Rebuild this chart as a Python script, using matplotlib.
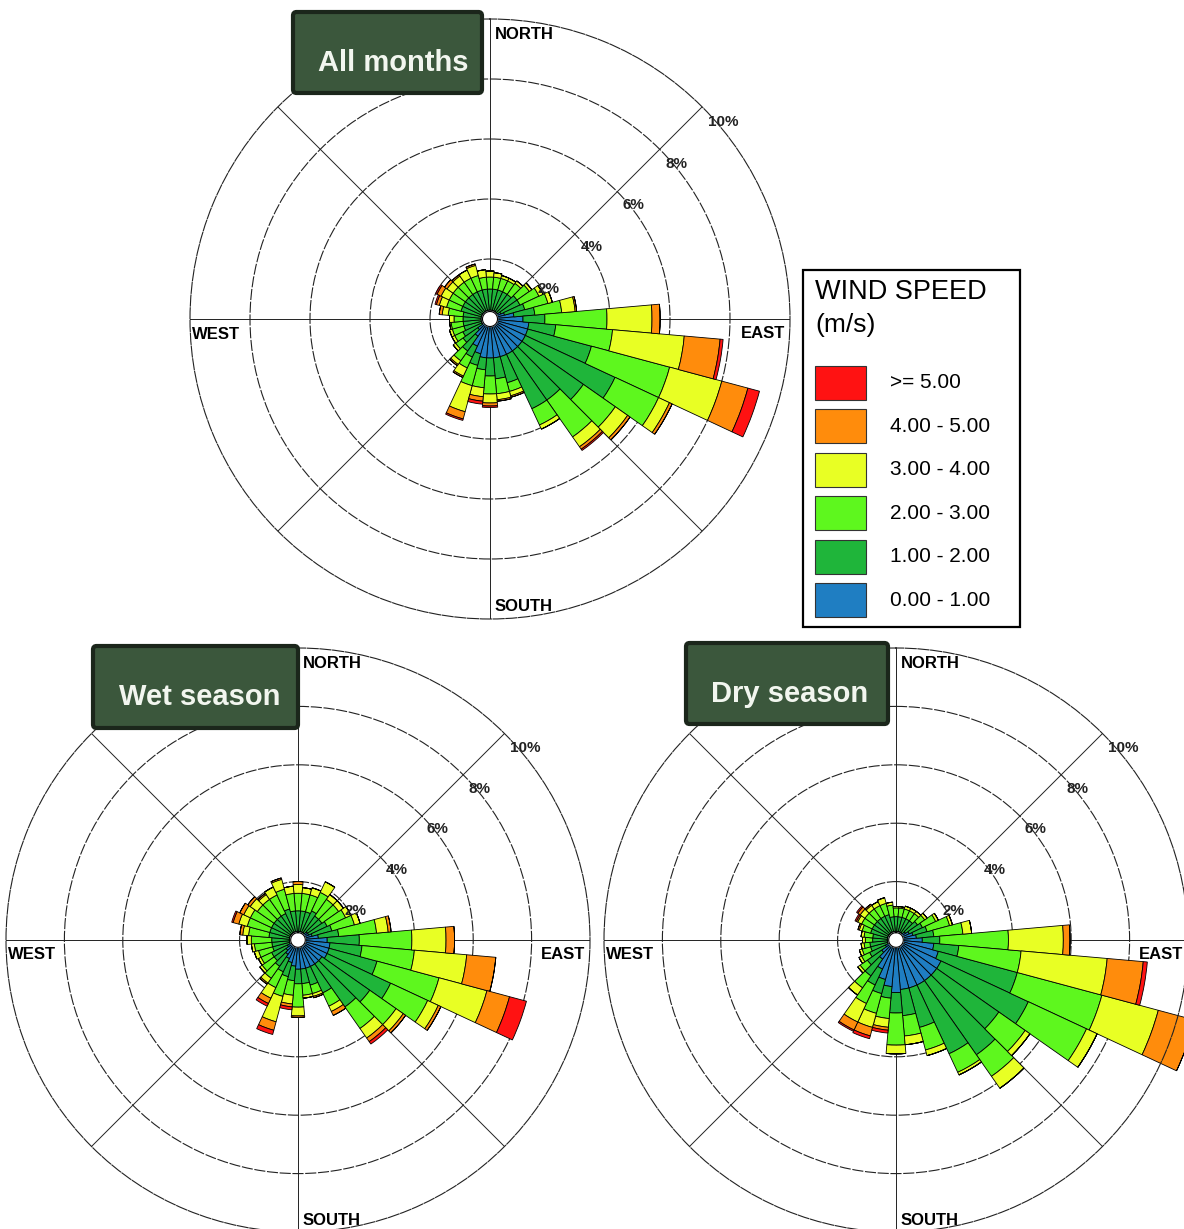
import numpy as np
import matplotlib.pyplot as plt
from matplotlib.patches import FancyBboxPatch, Rectangle

plt.rcParams["font.family"] = ["Liberation Sans", "DejaVu Sans"]

W, H = 1184, 1229

# ==========================
# Data
# ==========================

DIRECTIONS = np.arange(0, 360, 10)

SPEED_LABELS = ["0.00 - 1.00", "1.00 - 2.00", "2.00 - 3.00",
                "3.00 - 4.00", "4.00 - 5.00", ">= 5.00"]
SPEED_COLORS = ["#1f7ec2", "#1fb53a", "#5ef71e",
                "#e8ff24", "#ff8c0c", "#ff1212"]

RING_VALUES = [2, 4, 6, 8, 10]

# cumulative frequency (%) up to each speed class, one row per 10 deg sector
# columns: <1, <2, <3, <4, <5, all
ALL_MONTHS = [
    [0.3, 1.0, 1.4, 1.6, 1.6, 1.6],
    [0.3, 1.0, 1.4, 1.55, 1.55, 1.55],
    [0.3, 1.0, 1.4, 1.5, 1.5, 1.5],
    [0.3, 1.0, 1.4, 1.5, 1.5, 1.5],
    [0.3, 1.0, 1.45, 1.55, 1.55, 1.55],
    [0.3, 1.1, 1.6, 1.7, 1.7, 1.7],
    [0.4, 1.1, 1.8, 1.95, 1.95, 1.95],
    [0.5, 1.2, 2.0, 2.15, 2.15, 2.15],
    [0.8, 1.5, 2.4, 2.85, 2.9, 2.9],
    [1.1, 1.83, 3.9, 5.4, 5.67, 5.67],
    [1.3, 2.2, 4.1, 6.5, 7.7, 7.8],
    [1.3, 3.5, 6.2, 8.0, 8.9, 9.3],
    [1.3, 4.6, 6.2, 6.6, 6.7, 6.7],
    [1.3, 3.8, 5.1, 5.6, 5.7, 5.7],
    [1.3, 3.3, 4.8, 5.2, 5.3, 5.35],
    [1.3, 3.3, 3.9, 4.05, 4.05, 4.05],
    [1.3, 2.2, 2.5, 2.65, 2.7, 2.7],
    [1.3, 2.0, 2.5, 2.7, 2.75, 2.75],
    [1.3, 1.9, 2.5, 2.8, 2.9, 2.95],
    [1.3, 1.7, 2.3, 2.6, 2.75, 2.85],
    [1.2, 1.6, 2.3, 3.2, 3.45, 3.5],
    [1.0, 1.4, 1.8, 2.1, 2.15, 2.15],
    [0.7, 1.3, 1.7, 1.85, 1.9, 1.9],
    [0.5, 1.1, 1.4, 1.5, 1.5, 1.5],
    [0.3, 1.0, 1.3, 1.4, 1.4, 1.4],
    [0.3, 0.9, 1.3, 1.4, 1.4, 1.4],
    [0.3, 0.9, 1.3, 1.35, 1.35, 1.35],
    [0.3, 0.9, 1.2, 1.35, 1.35, 1.35],
    [0.3, 0.9, 1.4, 1.6, 1.7, 1.7],
    [0.3, 1.0, 1.5, 1.75, 1.85, 1.9],
    [0.3, 1.0, 1.5, 1.8, 1.95, 2.0],
    [0.3, 1.0, 1.5, 1.75, 1.85, 1.85],
    [0.3, 1.0, 1.5, 1.75, 1.8, 1.8],
    [0.3, 1.0, 1.5, 1.8, 1.8, 1.8],
    [0.3, 1.0, 1.5, 1.85, 1.9, 1.9],
    [0.3, 1.0, 1.4, 1.65, 1.65, 1.65],
]

WET_SEASON = [
    [0.3, 1.0, 1.6, 1.9, 2.0, 2.0],
    [0.3, 1.0, 1.6, 1.8, 1.8, 1.8],
    [0.3, 1.0, 1.6, 1.85, 1.85, 1.85],
    [0.3, 1.1, 1.8, 2.2, 2.2, 2.2],
    [0.3, 1.0, 1.7, 1.9, 1.9, 1.9],
    [0.4, 1.0, 1.7, 1.9, 1.9, 1.9],
    [0.4, 1.1, 1.8, 2.0, 2.0, 2.0],
    [0.5, 1.2, 2.0, 2.2, 2.2, 2.2],
    [0.7, 1.4, 2.7, 3.1, 3.2, 3.2],
    [1.0, 2.1, 3.9, 5.07, 5.36, 5.36],
    [1.1, 2.2, 4.0, 5.8, 6.8, 6.8],
    [1.1, 2.8, 5.0, 6.7, 7.5, 8.1],
    [1.1, 3.5, 4.9, 5.3, 5.4, 5.4],
    [1.0, 3.0, 4.1, 4.4, 4.5, 4.5],
    [1.0, 2.8, 3.7, 4.1, 4.25, 4.35],
    [1.0, 2.0, 2.5, 2.7, 2.85, 2.85],
    [1.0, 1.6, 1.9, 2.0, 2.05, 2.05],
    [1.0, 1.5, 1.9, 2.0, 2.0, 2.0],
    [1.0, 1.5, 2.3, 2.6, 2.65, 2.65],
    [0.9, 1.4, 1.9, 2.2, 2.3, 2.4],
    [0.8, 1.3, 2.0, 2.9, 3.2, 3.35],
    [0.7, 1.2, 1.8, 2.2, 2.4, 2.5],
    [0.6, 1.1, 1.6, 1.8, 1.85, 1.85],
    [0.5, 1.0, 1.5, 1.6, 1.6, 1.6],
    [0.4, 1.0, 1.4, 1.5, 1.5, 1.5],
    [0.3, 0.9, 1.4, 1.55, 1.55, 1.55],
    [0.3, 0.9, 1.5, 1.6, 1.6, 1.6],
    [0.3, 0.9, 1.6, 1.75, 1.75, 1.75],
    [0.3, 1.0, 1.7, 1.9, 2.0, 2.0],
    [0.3, 1.0, 1.8, 2.1, 2.3, 2.35],
    [0.3, 1.0, 1.8, 2.05, 2.2, 2.2],
    [0.3, 1.0, 1.7, 2.0, 2.1, 2.1],
    [0.3, 1.0, 1.7, 1.9, 1.95, 1.95],
    [0.3, 1.0, 1.7, 2.0, 2.0, 2.0],
    [0.3, 1.1, 1.8, 2.15, 2.2, 2.2],
    [0.3, 1.0, 1.6, 1.85, 1.85, 1.85],
]

DRY_SEASON = [
    [0.3, 0.8, 1.1, 1.15, 1.15, 1.15],
    [0.3, 0.8, 1.1, 1.15, 1.15, 1.15],
    [0.3, 0.8, 1.1, 1.2, 1.2, 1.2],
    [0.3, 0.8, 1.1, 1.2, 1.2, 1.2],
    [0.3, 0.8, 1.1, 1.2, 1.2, 1.2],
    [0.4, 0.9, 1.2, 1.3, 1.3, 1.3],
    [0.5, 1.0, 1.5, 1.6, 1.6, 1.6],
    [0.6, 1.1, 1.9, 2.0, 2.0, 2.0],
    [0.7, 1.3, 2.3, 2.6, 2.6, 2.6],
    [0.9, 1.5, 3.85, 5.73, 5.96, 5.96],
    [1.3, 2.16, 4.3, 7.26, 8.5, 8.64],
    [1.5, 4.3, 7.3, 9.3, 10.6, 10.6],
    [1.7, 5.0, 7.2, 7.6, 7.6, 7.6],
    [1.7, 4.3, 5.4, 5.6, 5.6, 5.6],
    [1.7, 4.8, 5.7, 6.2, 6.2, 6.2],
    [1.7, 4.3, 5.0, 5.1, 5.1, 5.1],
    [1.7, 3.1, 3.9, 4.1, 4.1, 4.1],
    [1.7, 2.6, 3.3, 3.6, 3.6, 3.6],
    [1.8, 2.5, 3.6, 3.9, 3.9, 3.9],
    [1.6, 2.0, 2.7, 3.0, 3.1, 3.2],
    [1.4, 1.9, 2.6, 3.1, 3.4, 3.5],
    [1.1, 1.7, 2.4, 3.1, 3.4, 3.45],
    [0.8, 1.5, 2.0, 2.3, 2.3, 2.3],
    [0.6, 1.2, 1.5, 1.6, 1.6, 1.6],
    [0.4, 1.0, 1.3, 1.4, 1.4, 1.4],
    [0.3, 0.9, 1.2, 1.3, 1.3, 1.3],
    [0.3, 0.9, 1.1, 1.2, 1.2, 1.2],
    [0.3, 0.8, 1.05, 1.15, 1.15, 1.15],
    [0.3, 0.8, 1.1, 1.2, 1.2, 1.2],
    [0.3, 0.9, 1.2, 1.3, 1.35, 1.35],
    [0.3, 0.9, 1.3, 1.45, 1.5, 1.55],
    [0.3, 0.9, 1.3, 1.5, 1.6, 1.65],
    [0.3, 0.9, 1.3, 1.45, 1.5, 1.5],
    [0.3, 0.9, 1.3, 1.45, 1.45, 1.45],
    [0.3, 0.9, 1.3, 1.5, 1.5, 1.5],
    [0.3, 0.8, 1.2, 1.3, 1.3, 1.3],
]

# ring label positions (deg from north, radius in %)
RING_LABEL_POS = [(63, 2.2), (54.5, 4.15), (51.5, 6.12), (50.2, 8.07), (49.8, 10.17)]

BOX_FACE = "#3b573c"
BOX_EDGE = "#1b261b"
RING_DASH = (0, (10, 1.5))

fig = plt.figure(figsize=(W / 100, H / 100), dpi=100)


def draw_rose(cx, cy, rad, table):

    ax = fig.add_axes(
        [(cx - rad) / W, 1 - (cy + rad) / H, 2 * rad / W, 2 * rad / H],
        projection="polar",
    )
    ax.set_theta_zero_location("N")
    ax.set_theta_direction(-1)
    ax.set_ylim(0, 10)
    ax.set_axisbelow(True)
    ax.patch.set_alpha(0)

    theta = np.radians(DIRECTIONS)
    cum = np.array(table)
    bottom = np.zeros(len(theta))

    # stacked speed classes; long petals may run past the 10 % ring
    for k, color in enumerate(SPEED_COLORS):
        ax.bar(
            theta,
            cum[:, k] - bottom,
            width=np.radians(10),
            bottom=bottom,
            color=color,
            edgecolor="black",
            linewidth=0.6,
            clip_on=False,
        )
        bottom = cum[:, k]

    # grid: rings every 2 %, spokes every 45 deg
    ax.set_rgrids(RING_VALUES[:-1], labels=[])
    ax.set_thetagrids(range(0, 360, 45), labels=[])
    ax.xaxis.grid(True, color="#222222", linewidth=0.7)
    ax.yaxis.grid(True, color="#222222", linewidth=0.8, linestyle=RING_DASH)
    ax.spines["polar"].set_linewidth(0.8)
    ax.spines["polar"].set_color("#222222")
    ax.spines["polar"].set_linestyle(RING_DASH)
    ax.tick_params(length=0)

    # calm circle in the middle
    t = np.linspace(0, 2 * np.pi, 120)
    ax.fill(t, np.full_like(t, 0.25), color="white", zorder=4)
    ax.plot(t, np.full_like(t, 0.25), color="black", linewidth=0.8, zorder=4)

    for val, (ang, r) in zip(RING_VALUES, RING_LABEL_POS):
        ax.text(np.radians(ang), r, f"{val}%", fontsize=11, fontweight="bold",
                color="#222222", ha="center", va="center", zorder=5)

    lab_kw = dict(fontsize=12, fontweight="bold", va="center", zorder=5)
    ax.text(np.radians(1.0), 9.47, "NORTH", ha="left", **lab_kw)
    ax.text(np.radians(179.0), 9.6, "SOUTH", ha="left", **lab_kw)
    ax.text(np.radians(92.9), 9.85, "EAST", ha="right", **lab_kw)
    ax.text(np.radians(267.1), 9.93, "WEST", ha="left", **lab_kw)

    return ax


def title_box(x0, y0, x1, y1, text, tx, ty):

    box = FancyBboxPatch(
        (x0 / W, 1 - y1 / H), (x1 - x0) / W, (y1 - y0) / H,
        boxstyle="round,pad=0,rounding_size=0.003",
        transform=fig.transFigure,
        facecolor=BOX_FACE, edgecolor=BOX_EDGE, linewidth=3, zorder=10,
    )
    fig.add_artist(box)
    fig.text(tx / W, 1 - ty / H, text, color="#f2f6ef", fontsize=21,
             fontweight="bold", ha="center", va="baseline", zorder=11)


draw_rose(490, 319, 300, ALL_MONTHS)
draw_rose(298, 940, 292, WET_SEASON)
draw_rose(896, 940, 292, DRY_SEASON)

title_box(293, 12, 482, 93, "All months", 393, 71)
title_box(93, 646, 298, 728, "Wet season", 200, 705)
title_box(686, 643, 888, 724, "Dry season", 790, 702)

# ==========================
# Legend
# ==========================

lax = fig.add_axes([803 / W, 1 - 627 / H, 217 / W, 357 / H])
lax.set_xlim(0, 217)
lax.set_ylim(357, 0)
lax.axis("off")
lax.add_patch(Rectangle((0, 0), 217, 357, fill=False, edgecolor="black",
                        linewidth=1.6, clip_on=False))
lax.text(12, 9, "WIND SPEED", fontsize=19.5, va="top")
lax.text(12, 43, "(m/s)", fontsize=19, va="top")

for i, (lab, col) in enumerate(zip(SPEED_LABELS[::-1], SPEED_COLORS[::-1])):
    y = 96 + i * 43.4
    lax.add_patch(Rectangle((12, y), 51, 34, facecolor=col,
                            edgecolor="#333333", linewidth=0.8))
    lax.text(87, y + 17, lab, fontsize=15, va="center")

fig.savefig("out.png", dpi=100)
